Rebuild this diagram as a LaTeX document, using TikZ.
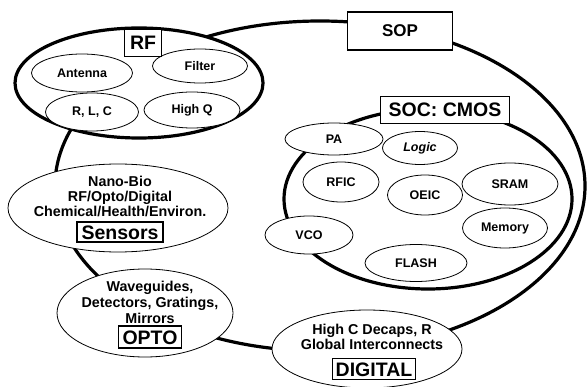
\documentclass[tikz,border=0pt]{standalone}
\usepackage{fontspec}
\setmainfont{Liberation Sans}
\usetikzlibrary{shapes.geometric}

\begin{document}
\begin{tikzpicture}[x=1pt, y=-1pt,
    every node/.style={font=\bfseries\fontsize{12.5}{15}\selectfont},
    rim/.style={ellipse, draw, line width=3.2pt, inner sep=0pt},
    bubble/.style={ellipse, draw, line width=0.8pt, fill=white, inner sep=0pt},
    blurb/.style={align=center, inner sep=0pt},
    tagbox/.style={draw, line width=1.1pt, fill=white, inner sep=0pt,
        text height=14pt, text depth=0pt,
        font=\bfseries\fontsize{19.5}{20}\selectfont}]
    \useasboundingbox (0,0) rectangle (588,387);

    % SOP ring round everything
    \node[rim, minimum width=530pt, minimum height=330pt] (sop) at (320,186) {};

    % RF
    \node[rim, fill=white, minimum width=248pt, minimum height=110pt] (rf) at (139,83) {};
    \node[bubble, minimum width=101pt, minimum height=38pt] (antenna) at (82,73) {Antenna};
    \node[bubble, minimum width=95pt, minimum height=34pt] (filter) at (200,66) {Filter};
    \node[bubble, minimum width=93pt, minimum height=38pt] (rlc) at (92,112) {R, L, C};
    \node[bubble, minimum width=96pt, minimum height=36pt] (highq) at (192,110) {High Q};
    \node[tagbox, minimum width=37pt, minimum height=27pt] (rftag) at (143,43) {RF};

    % SOP label sits on the ring
    \node[tagbox, font=\bfseries\fontsize{17}{17}\selectfont, text height=12pt,
        minimum width=105pt, minimum height=38pt] (soptag) at (400,31) {SOP};

    % SOC: CMOS
    \node[rim, fill=white, minimum width=288pt, minimum height=180pt] (soc) at (428,199) {};
    \node[bubble, minimum width=98pt, minimum height=32pt] (pa) at (334,139) {PA};
    \node[bubble, minimum width=75pt, minimum height=33pt] (logic) at (420,148) {\itshape Logic};
    \node[bubble, minimum width=76pt, minimum height=40pt] (rfic) at (341,182) {RFIC};
    \node[bubble, minimum width=75pt, minimum height=40pt] (oeic) at (425,195) {OEIC};
    \node[bubble, minimum width=96pt, minimum height=42pt] (sram) at (510,184) {SRAM};
    \node[bubble, minimum width=85pt, minimum height=40pt] (memory) at (505,228) {Memory};
    \node[bubble, minimum width=88pt, minimum height=38pt] (vco) at (309,235) {VCO};
    \node[bubble, minimum width=102pt, minimum height=37pt] (flash) at (416,263) {FLASH};
    \node[tagbox, minimum width=129pt, minimum height=27pt] (soctag) at (445,110) {SOC: CMOS};

    % Sensors
    \node[bubble, minimum width=220pt, minimum height=88pt] (sensors) at (118,208) {};
    \node[blurb, font=\bfseries\fontsize{14.3}{15}\selectfont] (sensnote) at (120,196)
        {Nano-Bio\\RF/Opto/Digital\\Chemical/Health/Environ.};
    \node[tagbox, minimum width=86pt, minimum height=20pt] (senstag) at (120,232) {Sensors};

    % OPTO
    \node[bubble, minimum width=176pt, minimum height=88pt] (opto) at (145,313) {};
    \node[blurb, font=\bfseries\fontsize{14.3}{16}\selectfont] (optonote) at (150,302)
        {Waveguides,\\Detectors, Gratings,\\Mirrors};
    \node[tagbox, minimum width=63pt, minimum height=22pt] (optotag) at (150,337) {OPTO};

    % DIGITAL
    \node[bubble, minimum width=190pt, minimum height=78pt] (digital) at (367,349) {};
    \node[blurb, font=\bfseries\fontsize{14.3}{15.5}\selectfont] (diginote) at (372,337)
        {High C Decaps, R\\Global Interconnects};
    \node[tagbox, minimum width=83pt, minimum height=21pt] (digtag) at (374,369) {DIGITAL};
\end{tikzpicture}
\end{document}
